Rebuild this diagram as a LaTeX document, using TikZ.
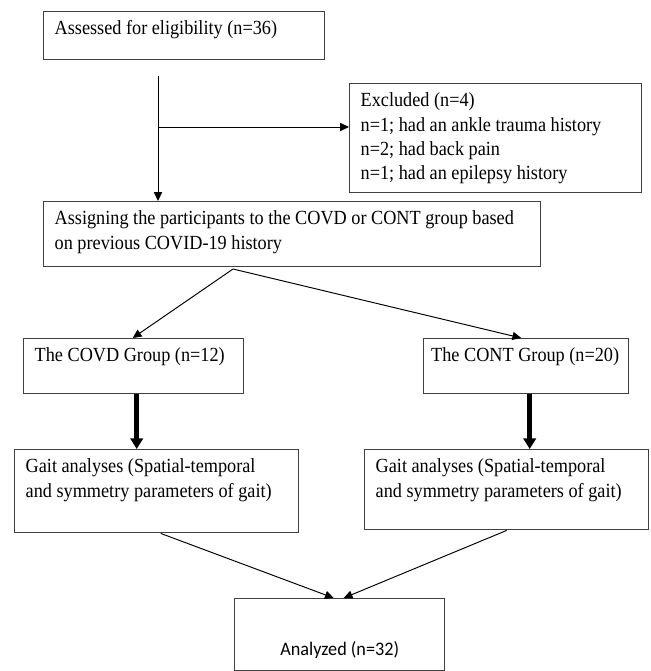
\documentclass[tikz,border=0pt]{standalone}
\usepackage{fontspec}
\usepackage{xcolor}
\setmainfont{Liberation Serif}[FakeStretch=0.91]
\newfontfamily\calibrifont{Carlito}[FakeStretch=0.95]
\usetikzlibrary{arrows.meta}
\newcommand{\boxtext}[3]{\parbox[c][#2][t]{#1}{\raggedright #3}}
\tikzset{
  flowbox/.style={draw=black!75, line width=0.8pt, inner xsep=0.22cm, inner ysep=0.18cm,
                  anchor=north west, font=\fontsize{11.4pt}{13.9pt}\selectfont},
  thinarrow/.style={line width=0.55pt, -{Triangle[length=5pt,width=4.6pt]}},
  heavyarrow/.style={line width=2.8pt, -{Triangle[length=6pt,width=7pt]}}
}
\begin{document}
\begin{tikzpicture}
             \useasboundingbox (0,0) rectangle (13.02,-13.42);
             \node[flowbox] (assess) at (0.86,-0.22)
                  {\boxtext{5.18cm}{0.60cm}{Assessed for eligibility (n=36)}};
             \node[flowbox] (excl) at (6.98,-1.66)
                  {\boxtext{5.40cm}{1.82cm}{Excluded (n=4)\\ n=1; had an ankle trauma history\\
                   n=2; had back pain\\ n=1; had an epilepsy history}};
             \node[flowbox] (assign) at (0.86,-4.02)
                  {\boxtext{9.50cm}{0.94cm}{Assigning the participants to the COVD or CONT group based\\
                   on previous COVID-19 history}};
             \node[flowbox] (covd) at (0.46,-6.76)
                  {\boxtext{3.96cm}{0.74cm}{The COVD Group (n=12)}};
             \node[flowbox, inner xsep=0.15cm] (cont) at (8.46,-6.76)
                  {\boxtext{3.80cm}{0.74cm}{The CONT Group (n=20)}};
             \node[flowbox] (gaitl) at (0.28,-8.98)
                  {\boxtext{5.24cm}{1.30cm}{Gait analyses (Spatial-temporal\\ and symmetry parameters of gait)}};
             \node[flowbox] (gaitr) at (7.28,-8.98)
                  {\boxtext{5.24cm}{1.24cm}{Gait analyses (Spatial-temporal\\ and symmetry parameters of gait)}};
             \node[flowbox, inner sep=0pt, minimum width=4.2cm, text height=1.13cm, text depth=0.31cm,
                   font=\calibrifont\fontsize{10.9pt}{12pt}\selectfont] (analyzed) at (4.68,-11.96)
                  {Analyzed (n=32)};
             \coordinate (start) at (3.16,-1.52);
             \coordinate (branch) at (3.16,-2.54);
             \coordinate (fork) at (4.66,-5.38);
             \draw[thinarrow] (start) -- (start |- assign.north);
             \draw[thinarrow] (branch) -- (branch -| excl.west);
             \draw[thinarrow] (fork) -- ([xshift=-0.02cm]covd.north);
             \draw[thinarrow] (fork) -- ([xshift=-0.1cm]cont.north);
             \draw[heavyarrow] ([xshift=0.06cm]covd.south) -- ([xshift=0.06cm]covd.south |- gaitl.north);
             \draw[heavyarrow] ([xshift=0.07cm]cont.south) -- ([xshift=0.07cm]cont.south |- gaitr.north);
             \draw[thinarrow] ([xshift=0.08cm]gaitl.south) -- ([xshift=-0.12cm]analyzed.north);
             \draw[thinarrow] (gaitr.south) -- ([xshift=0.08cm]analyzed.north);
\end{tikzpicture}
\end{document}
